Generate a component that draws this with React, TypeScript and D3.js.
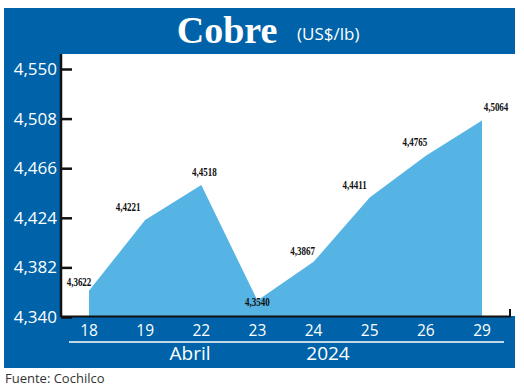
import React, { useEffect, useRef } from 'react';
import * as d3 from 'd3';

const days = ['18', '19', '22', '23', '24', '25', '26', '29'];
const prices = [4.3622, 4.4221, 4.4518, 4.354, 4.3867, 4.4411, 4.4765, 4.5064];
const yTicks = [4.34, 4.382, 4.424, 4.466, 4.508, 4.55];
// label offsets relative to each point (dx, dy)
const labelDx = [-10, -17, 3, 0, -11, -15, -11, 14];
const labelDy = [-5, -9, -9, 6, -7, -9, -10, -9];

const fmt = (v: number, d: number) => v.toFixed(d).replace('.', ',');

const App: React.FC = () => {
  const svgRef = useRef<SVGSVGElement>(null);

  useEffect(() => {
    const svg = d3.select(svgRef.current);
    svg.selectAll('*').remove();

    const W = 524, H = 390;
    svg.attr('width', W).attr('height', H);

    const blue = '#0063a9';
    const sans = '"Open Sans", "Noto Sans", sans-serif';

    // frame
    svg.append('rect').attr('width', W).attr('height', H).attr('fill', '#fff');
    svg.append('rect').attr('x', 4).attr('y', 8).attr('width', 511).attr('height', 360).attr('fill', blue);
    svg.append('rect').attr('x', 61).attr('y', 54).attr('width', 454).attr('height', 262).attr('fill', '#fff');

    // title
    svg.append('text').attr('x', 227).attr('y', 43).attr('text-anchor', 'middle')
      .attr('font-family', '"Liberation Serif", serif').attr('font-weight', 'bold')
      .attr('font-size', 38).attr('fill', '#fff').text('Cobre');
    svg.append('text').attr('x', 297).attr('y', 40)
      .attr('font-family', sans).attr('font-size', 17).attr('fill', '#fff').text('(US$/lb)');

    const x = d3.scalePoint<string>().domain(days).range([89, 482]);
    const y = d3.scaleLinear().domain([4.34, 4.55]).range([317, 69]);

    // area
    const area = d3.area<number>()
      .x((_, i) => x(days[i]) as number)
      .y0(y(4.34))
      .y1(d => y(d));
    svg.append('path').datum(prices).attr('d', area).attr('fill', '#55b4e3');

    // y axis
    const yAxis = svg.append('g').attr('transform', 'translate(61,0)')
      .call(d3.axisRight(y).tickValues(yTicks).tickSize(11).tickFormat(() => ''));
    yAxis.select('.domain').attr('stroke', '#111').attr('stroke-width', 2.5)
      .attr('d', `M0,${54}V${317}`);
    yAxis.selectAll('.tick line').attr('stroke', '#111').attr('stroke-width', 2.5);

    svg.append('g').selectAll('text').data(yTicks).enter().append('text')
      .attr('x', 57).attr('y', d => y(d) + 6).attr('text-anchor', 'end')
      .attr('font-family', sans).attr('font-size', 17).attr('fill', '#fff')
      .text(d => fmt(d, 3));

    // x axis line
    svg.append('path').attr('d', `M61,316.5H510V309`).attr('fill', 'none')
      .attr('stroke', '#111').attr('stroke-width', 2);

    svg.append('g').selectAll('text').data(days).enter().append('text')
      .attr('x', d => x(d) as number).attr('y', 336).attr('text-anchor', 'middle')
      .attr('font-family', sans).attr('font-size', 15.5).attr('fill', '#fff')
      .text(d => d);

    svg.append('line').attr('x1', 69).attr('x2', 504).attr('y1', 342).attr('y2', 342)
      .attr('stroke', '#fff').attr('stroke-width', 1.5);
    svg.append('text').attr('x', 190).attr('y', 360).attr('text-anchor', 'middle')
      .attr('font-family', sans).attr('font-size', 19).attr('fill', '#fff').text('Abril');
    svg.append('text').attr('x', 328).attr('y', 360).attr('text-anchor', 'middle')
      .attr('font-family', sans).attr('font-size', 19).attr('fill', '#fff').text('2024');

    // value labels
    svg.append('g').selectAll('text').data(prices).enter().append('text')
      .attr('transform', (d, i) =>
        `translate(${(x(days[i]) as number) + labelDx[i]},${y(d) + labelDy[i]}) scale(0.72,1)`)
      .attr('text-anchor', 'middle')
      .attr('font-family', '"Liberation Serif", serif').attr('font-weight', 'bold')
      .attr('font-size', 12.5).attr('fill', '#111')
      .text(d => fmt(d, 4));

    svg.append('text').attr('x', 5).attr('y', 383)
      .attr('font-family', sans).attr('font-size', 13).attr('fill', '#333')
      .text('Fuente: Cochilco');
  }, []);

  return <svg ref={svgRef} style={{ position: 'absolute', left: 0, top: 0 }}></svg>;
};

export default App;
